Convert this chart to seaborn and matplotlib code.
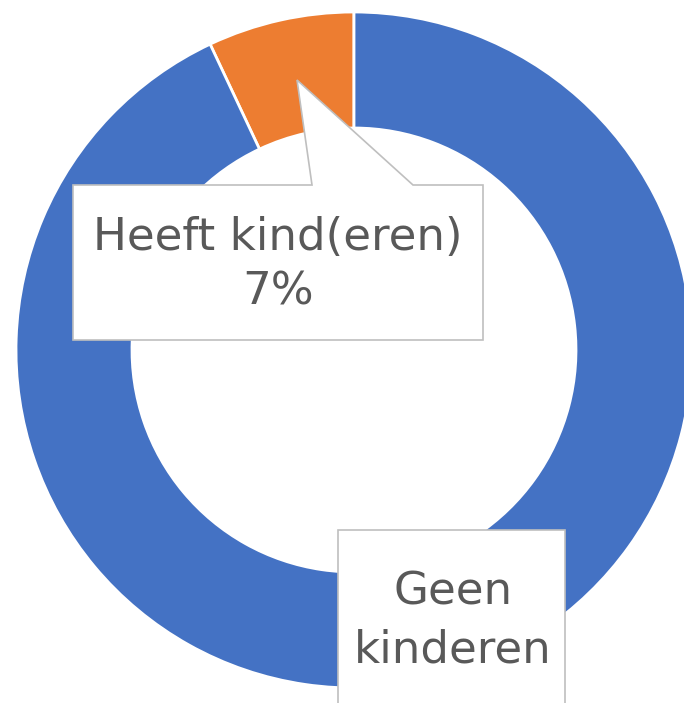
import matplotlib
matplotlib.use('Agg')
import matplotlib.pyplot as plt
import seaborn as sns
from matplotlib.patches import Polygon

# data
categorieen = ['Heeft kind(eren)', 'Geen kinderen']
percentages = [7, 93]
kleuren = ['#ED7D31', '#4472C4']

sns.set_theme(style='white')
plt.rcParams['font.family'] = ['DejaVu Sans']

fig = plt.figure(figsize=(6.84, 7.03), dpi=100)
ax = fig.add_axes([0, 0, 1, 1])

# 1 data unit = 338 px, centre at pixel (354, 350)
R = 338.0
def px(x, y):
    return ((x - 354) / R, (350 - y) / R)

ax.pie(percentages, colors=kleuren, startangle=90, counterclock=True,
       radius=1.0, wedgeprops=dict(width=1 - 222 / 338, edgecolor='white', linewidth=2))

ax.set_xlim(-354 / R, (684 - 354) / R)
ax.set_ylim(-(703 - 350) / R, 350 / R)
ax.set_aspect('equal')
ax.axis('off')

tekstkleur = '#595959'
randkleur = '#BFBFBF'
grootte = 32.5

# callout for the small slice
punten = [px(73, 185), px(312, 185), px(297, 80), px(413, 185), px(483, 185),
          px(483, 340), px(73, 340)]
ax.add_patch(Polygon(punten, closed=True, facecolor='white', edgecolor=randkleur,
                     linewidth=1.2, zorder=3))
x, y = px(278, 238)
ax.text(x, y, categorieen[0], ha='center', va='center', fontsize=grootte,
        color=tekstkleur, zorder=4)
x, y = px(278, 292)
ax.text(x, y, f'{percentages[0]}%', ha='center', va='center', fontsize=grootte,
        color=tekstkleur, zorder=4)

# label box for the large slice
punten = [px(338, 530), px(565, 530), px(565, 710), px(338, 710)]
ax.add_patch(Polygon(punten, closed=True, facecolor='white', edgecolor=randkleur,
                     linewidth=1.2, zorder=3))
woorden = categorieen[1].split(' ')
x, y = px(453, 592)
ax.text(x, y, woorden[0], ha='center', va='center', fontsize=grootte,
        color=tekstkleur, zorder=4)
x, y = px(453, 650)
ax.text(x, y, woorden[1], ha='center', va='center', fontsize=grootte,
        color=tekstkleur, zorder=4)

fig.savefig('out.png', dpi=100)
